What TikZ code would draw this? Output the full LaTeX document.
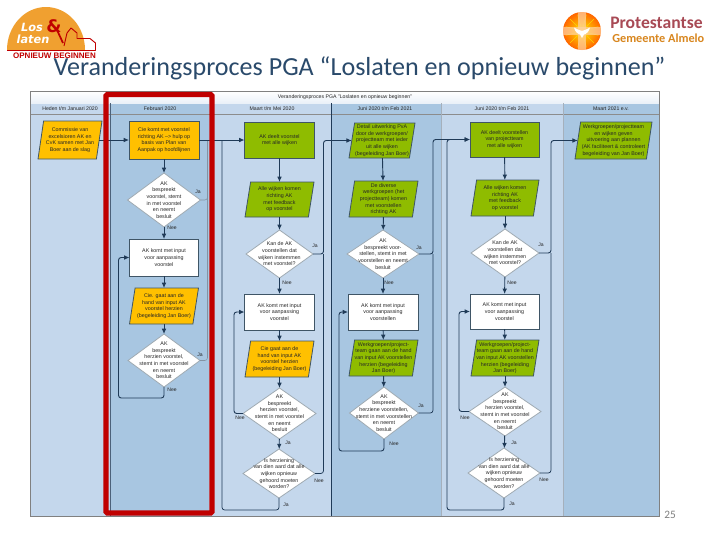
\documentclass[tikz,border=0pt]{standalone}
\usepackage{fontspec}
\setmainfont{Liberation Sans}
\newfontfamily\titlefont{Carlito}
\newfontfamily\logofont{DejaVu Sans}
\usetikzlibrary{shapes.geometric,arrows.meta,shadings}
\definecolor{collight}{HTML}{C4D7EC}
\definecolor{coldark}{HTML}{A8C6E1}
\definecolor{boxyellow}{HTML}{FFC000}
\definecolor{boxgreen}{HTML}{8FBC00}
\definecolor{boxedge}{HTML}{3F5566}
\definecolor{linkdark}{HTML}{1F3A57}
\definecolor{redframe}{HTML}{C00000}
\definecolor{titleblue}{HTML}{2A4A6B}
\definecolor{logoorange}{HTML}{F0A030}
\definecolor{protred}{HTML}{A84A55}
\definecolor{protorange}{HTML}{D8861E}
\newcommand{\tb}[1]{\smash{\makebox[0pt][c]{\raisebox{-0.25em}{\parbox[c]{120pt}{\centering\fontsize{4}{5}\selectfont #1}}}}}
\makeatletter
\def\slantamt{2.1pt}
\pgfdeclareshape{slantbox}{
  \inheritsavedanchors[from=rectangle]
  \inheritanchorborder[from=rectangle]
  \inheritanchor[from=rectangle]{center}
  \inheritanchor[from=rectangle]{north}
  \inheritanchor[from=rectangle]{south}
  \inheritanchor[from=rectangle]{east}
  \inheritanchor[from=rectangle]{west}
  \backgroundpath{
    \southwest \pgf@xa=\pgf@x \pgf@ya=\pgf@y
    \northeast \pgf@xb=\pgf@x \pgf@yb=\pgf@y
    \pgf@xc=\slantamt
    \pgfpathmoveto{\pgfqpoint{\dimexpr\pgf@xa-\pgf@xc\relax}{\pgf@ya}}
    \pgfpathlineto{\pgfqpoint{\dimexpr\pgf@xb-\pgf@xc\relax}{\pgf@ya}}
    \pgfpathlineto{\pgfqpoint{\dimexpr\pgf@xb+\pgf@xc\relax}{\pgf@yb}}
    \pgfpathlineto{\pgfqpoint{\dimexpr\pgf@xa+\pgf@xc\relax}{\pgf@yb}}
    \pgfpathclose
  }
}
\makeatother
\tikzset{
  pw/.style={minimum width=#1*0.75pt},
  ph/.style={minimum height=#1*0.75pt},
  boxbase/.style={draw=boxedge,line width=0.6pt,inner sep=0pt,outer sep=0pt,text=black!85},
  rectbox/.style={boxbase,rectangle,fill=#1},
  parabox/.style={boxbase,shape=slantbox,fill=#1},
  ppw/.style={minimum width=(#1-5.6)*0.75pt},
  decbox/.style={boxbase,diamond,fill=white,draw=boxedge!50},
  link/.style={draw=linkdark,line width=0.7pt,-{Latex[length=4pt,width=3.5pt]},rounded corners=2pt},
  linkplain/.style={draw=linkdark,line width=0.55pt,rounded corners=2pt},
  linkfaint/.style={draw=linkdark!55,line width=0.4pt,rounded corners=2pt},
  lab/.style={inner sep=0pt,font=\fontsize{3.8}{4.5}\selectfont,text=black!85},
  head/.style={inner sep=0pt,font=\fontsize{3.9}{5}\selectfont,text=black!85},
}
\begin{document}
\begin{tikzpicture}[x=0.75pt,y=-0.75pt]
\useasboundingbox (0,0) rectangle (720,540);
\fill[white] (0,0) rectangle (720,540);
% ---------- panel
\fill[collight] (30,103) rectangle (110,516);
\fill[coldark] (110,103) rectangle (209,516);
\fill[collight] (209,103) rectangle (331,516);
\fill[coldark] (331,103) rectangle (441,516);
\fill[collight] (441,103) rectangle (563,516);
\fill[coldark] (563,103) rectangle (659,516);
\shade[top color=white,bottom color=collight!35] (30,91) rectangle (659,103);
\draw[black!45,line width=0.5pt] (30,114) -- (659,114);
\draw[linkdark!80,line width=0.5pt] (110.5,103) -- (110.5,516);
\draw[linkdark,line width=0.6pt] (331,103) -- (331,516);
\draw[linkdark!40,line width=0.5pt] (441,103) -- (441,516);
\draw[linkdark!40,line width=0.5pt] (563,103) -- (563,516);
\draw[black!50,line width=0.6pt] (30,91) rectangle (659,516);
\node[head] (mainhead) at (345,97) {Veranderingsproces PGA ''Loslaten en opnieuw beginnen''};
\node[head] (h1) at (70,109) {Heden t/m Januari 2020};
\node[head] (h2) at (160,109) {Februari 2020};
\node[head] (h3) at (272,109) {Maart t/m Mei 2020};
\node[head] (h4) at (385,109) {Juni 2020 t/m Feb 2021};
\node[head] (h5) at (502,109) {Juni 2020 t/m Feb 2021};
\node[head] (h6) at (611,109) {Maart 2021 e.v.};
% ---------- column 1
\node[parabox=boxyellow,ppw=64,ph=38] (a1) at (70,140) {\tb{Commissie van\\excelsioren AK en\\CvK samen met Jan\\Boer aan de slag}};
% ---------- column 2
\node[rectbox=boxyellow,pw=70,ph=38] (b1) at (164,140) {\tb{Cie komt met voorstel\\richting AK --> hulp op\\basis van Plan van\\Aanpak op hoofdlijnen}};
\node[decbox,pw=73,ph=54] (b2) at (164,200) {\tb{AK\\bespreekt\\voorstel, stemt\\in met voorstel\\en neemt\\besluit}};
\node[rectbox=white,pw=69,ph=37] (b3) at (164,257.5) {\tb{AK komt met input\\voor aanpassing\\voorstel}};
\node[parabox=boxyellow,ppw=69,ph=36] (b4) at (164,306) {\tb{Cie. gaat aan de\\hand van input AK\\voorstel herzien\\(begeleiding Jan Boer)}};
\node[decbox,pw=72,ph=53] (b5) at (164,360.5) {\tb{AK\\bespreekt\\herzien voorstel,\\stemt in met voorstel\\en neemt\\besluit}};
% ---------- column 3
\node[rectbox=boxgreen,pw=70,ph=36] (c1) at (279.5,140) {\tb{AK deelt voorstel\\met alle wijken}};
\node[parabox=boxgreen,ppw=69,ph=35] (c2) at (279.5,199.5) {\tb{Alle wijken komen\\richting AK\\met feedback\\op voorstel}};
\node[decbox,pw=67,ph=48] (c3) at (279.5,254) {\tb{Kan de AK\\voorstellen dat\\wijken instemmen\\met voorstel?}};
\node[rectbox=white,pw=70,ph=36] (c4) at (279.5,312) {\tb{AK komt met input\\voor aanpassing\\voorstel}};
\node[parabox=boxyellow,ppw=69,ph=36] (c5) at (279.5,359) {\tb{Cie gaat aan de\\hand van input AK\\voorstel herzien\\(begeleiding Jan Boer)}};
\node[decbox,pw=73,ph=51] (c6) at (279.5,413.5) {\tb{AK\\bespreekt\\herzien voorstel,\\stemt in met voorstel\\en neemt\\besluit}};
\node[decbox,pw=72,ph=49] (c7) at (279,473.5) {\tb{Is herziening\\van dien aard dat alle\\wijken opnieuw\\gehoord moeten\\worden?}};
% ---------- column 4
\node[parabox=boxgreen,ppw=66,ph=35] (d1) at (382,140.5) {\tb{Detail uitwerking PvA\\door de werkgroepen/\\projectteam met ieder\\uit alle wijken\\(begeleiding Jan Boer)}};
\node[parabox=boxgreen,ppw=69,ph=36] (d2) at (383.5,199) {\tb{De diverse\\werkgroepen (het\\projectteam) komen\\met voorstellen\\richting AK}};
\node[decbox,pw=72,ph=48] (d3) at (383,254) {\tb{AK\\bespreekt voor-\\stellen, stemt in met\\voorstellen en neemt\\besluit}};
\node[rectbox=white,pw=70,ph=36] (d4) at (383,312) {\tb{AK komt met input\\voor aanpassing\\voorstellen}};
\node[parabox=boxgreen,ppw=69,ph=36] (d5) at (383.5,358) {\tb{Werkgroepen/project-\\team gaan aan de hand\\van input AK voorstellen\\herzien (begeleiding\\Jan Boer)}};
\node[decbox,pw=69,ph=52] (d6) at (384,413) {\tb{AK\\bespreekt\\herziene voorstellen,\\stemt in met voorstellen\\en neemt\\besluit}};
% ---------- column 5
\node[rectbox=boxgreen,pw=69,ph=35] (e1) at (504.5,139.5) {\tb{AK deelt voorstellen\\van projectteam\\met alle wijken}};
\node[parabox=boxgreen,ppw=68,ph=36] (e2) at (505,198) {\tb{Alle wijken komen\\richting AK\\met feedback\\op voorstel}};
\node[decbox,pw=68,ph=48] (e3) at (505,253) {\tb{Kan de AK\\voorstellen dat\\wijken instemmen\\met voorstel?}};
\node[rectbox=white,pw=69,ph=35] (e4) at (504.5,311.5) {\tb{AK komt met input\\voor aanpassing\\voorstel}};
\node[parabox=boxgreen,ppw=68,ph=36] (e5) at (505,358) {\tb{Werkgroepen/project-\\team gaan aan de hand\\van input AK voorstellen\\herzien (begeleiding\\Jan Boer)}};
\node[decbox,pw=72,ph=49] (e6) at (505,411.5) {\tb{AK\\bespreekt\\herzien voorstel,\\stemt in met voorstel\\en neemt\\besluit}};
\node[decbox,pw=72,ph=50] (e7) at (504,473) {\tb{Is herziening\\van dien aard dat alle\\wijken opnieuw\\gehoord moeten\\worden?}};
% ---------- column 6
\node[parabox=boxgreen,ppw=77,ph=37] (f1) at (613.5,140.5) {\tb{Werkgroepen/projectteam\\en wijken geven\\uitvoering aan plannen\\(AK faciliteert \& controleert\\begeleiding van Jan Boer)}};
% ---------- connectors
\draw[link] (a1) -- (b1);
\draw[link] (b1) -- (c1);
\draw[link] (b1) -- (b2);
\draw[link] (b2) -- (b3);
\draw[link] (b3) -- (b4);
\draw[link] (b4) -- (b5);
\draw[linkfaint] (b2.east) -| (207.5,141);
\draw[linkfaint] (b5.east) -| (207.5,141);
\draw[link] (b5.south) -- (164,398) -- (118.5,398) -- (118.5,257.5) -- (b3.west);
\draw[link] (c1) -- (c2);
\draw[link] (c2) -- (c3);
\draw[link] (c3) -- (c4);
\draw[link] (c4) -- (c5);
\draw[link] (c5) -- (c6);
\draw[link] (c6) -- (c7);
\draw[link] (c6.west) -- (234,413.5) -- (234,312) -- (c4.west);
\draw[link] (c3.east) -- (323.5,254) -- (323.5,140.5) -- (d1.west);
\draw[linkplain] (c7.east) -- (323.5,473.5) -- (323.5,254);
\draw[linkplain] (c7.south) -- (279,510) -- (222,510) -- (222,140);
\draw[link] (d1) -- (d2);
\draw[link] (d2) -- (d3);
\draw[link] (d3) -- (d4);
\draw[link] (d4) -- (d5);
\draw[link] (d5) -- (d6);
\draw[link] (d6.south) -- (384,451) -- (339,451) -- (339,312) -- (d4.west);
\draw[link] (d3.east) -- (433,254) -- (433,139.5) -- (e1.west);
\draw[linkplain] (d6.east) -- (433,413) -- (433,254);
\draw[link] (e1) -- (e2);
\draw[link] (e2) -- (e3);
\draw[link] (e3) -- (e4);
\draw[link] (e4) -- (e5);
\draw[link] (e5) -- (e6);
\draw[link] (e6) -- (e7);
\draw[link] (e6.west) -- (459,411.5) -- (459,311.5) -- (e4.west);
\draw[link] (e3.east) -- (551,253) -- (551,140.5) -- (f1.west);
\draw[linkplain] (e7.east) -- (551,473) -- (551,253);
\draw[link] (e7.south) -- (504,510) -- (447,510) -- (447,139.5) -- (e1.west);
% ---------- labels
\node[lab] (l1) at (198,192) {Ja};
\node[lab] (l2) at (172,228) {Nee};
\node[lab] (l3) at (200,355) {Ja};
\node[lab] (l4) at (172,390) {Nee};
\node[lab] (l5) at (315,246) {Ja};
\node[lab] (l6) at (287,283) {Nee};
\node[lab] (l7) at (240,418) {Nee};
\node[lab] (l8) at (288,443) {Ja};
\node[lab] (l9) at (319,481) {Nee};
\node[lab] (l10) at (286,505) {Ja};
\node[lab] (l11) at (419,248) {Ja};
\node[lab] (l12) at (389,283) {Nee};
\node[lab] (l13) at (421,406) {Ja};
\node[lab] (l14) at (394,444) {Nee};
\node[lab] (l15) at (541,245) {Ja};
\node[lab] (l16) at (512,283) {Nee};
\node[lab] (l17) at (465,418) {Nee};
\node[lab] (l18) at (514,443) {Ja};
\node[lab] (l19) at (544,480) {Nee};
\node[lab] (l20) at (512,504) {Ja};
% ---------- red frame
\draw[redframe,line width=3.9pt,rounded corners=1pt] (106,94.5) rectangle (212,513);
% ---------- left logo (under the title)
\fill[logoorange] (7,50) arc[start angle=180,end angle=360,x radius=39,y radius=43] -- cycle;
\draw[redframe,line width=0.7pt,line join=round] (7,50.5) -- (95.5,50.5) -- (95.5,43) -- (90,38.5) -- (77,38.5) -- (77,33) -- (71,28) -- (67,33) -- (64,46);
\node[inner sep=0pt,text=white,font=\logofont\bfseries\itshape\fontsize{8.5}{10}\selectfont] (los) at (32,27) {Los};
\node[inner sep=0pt,text=white,font=\logofont\bfseries\itshape\fontsize{8.5}{10}\selectfont] (laten) at (33,39.5) {laten};
\node[inner sep=0pt,text=redframe,font=\logofont\bfseries\fontsize{13}{14}\selectfont] (amp) at (54,26) {\&};
\draw[redframe,line width=1.3pt] (57,30) -- (63,43);
\node[inner sep=0pt,text=redframe,font=\bfseries\fontsize{6}{7}\selectfont] (opn) at (54.5,56) {OPNIEUW BEGINNEN};
% ---------- right logo
\shade[inner color=yellow!80!orange,outer color=orange!80!red] (582,31) circle (19*0.75pt);
\foreach \a in {15,45,...,345} {\draw[yellow!70!orange,line width=0.35pt] (582,31) -- ++(\a:17);}
\fill[white!65!orange,opacity=0.7] (578,12) rectangle (586,50);
\fill[white!65!orange,opacity=0.7] (563,27) rectangle (601,35);
\fill[white] (574,27.5) .. controls (578,30) and (580,30) .. (582,31) .. controls (584,30) and (586,30) .. (590,27.5) .. controls (589,32) and (586,34) .. (584,34.5) -- (582,38) -- (580,34.5) .. controls (578,34) and (575,32) .. (574,27.5) -- cycle;
\node[inner sep=0pt,anchor=west,text=protred,font=\titlefont\bfseries\fontsize{13.2}{15}\selectfont] (prot) at (610,23) {Protestantse};
\node[inner sep=0pt,anchor=west,text=protorange,font=\titlefont\bfseries\fontsize{9.2}{11}\selectfont] (gem) at (612,38) {Gemeente Almelo};
% ---------- title
\node[inner sep=0pt,anchor=base,text=titleblue,font=\titlefont\fontsize{19.55}{23}\selectfont] (title) at (359.5,75) {Veranderingsproces PGA “Loslaten en opnieuw beginnen”};
\node[inner sep=0pt,text=black!50,font=\titlefont\fontsize{8.5}{10}\selectfont] (pagenum) at (670,515) {25};
\end{tikzpicture}
\end{document}
